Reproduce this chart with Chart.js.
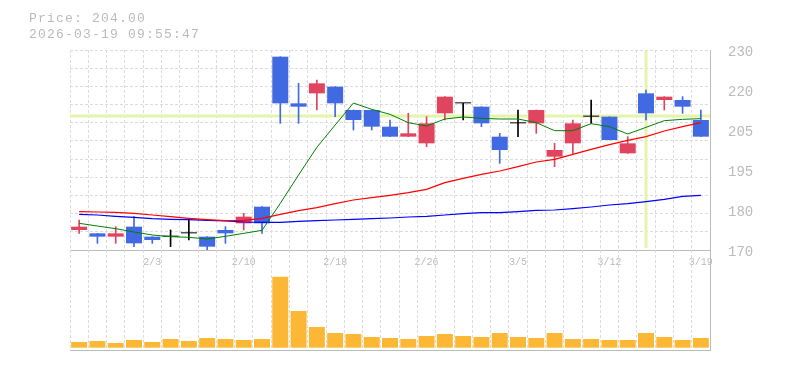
<!DOCTYPE html>
<html>
<head>
<meta charset="utf-8">
<title>Candlestick chart</title>
<script src="https://cdn.jsdelivr.net/npm/chart.js@4.4.1/dist/chart.umd.min.js"></script>
<style>
  body { margin: 0; background: #fff; }
  #wrap { position: relative; width: 785px; height: 370px; overflow: hidden; }
  #price { position: absolute; left: 0; top: 0; }
  #volume { position: absolute; left: 0; top: 250px; }
  #info {
    position: absolute; left: 29px; top: 11px;
    font: 13px/15.5px "Liberation Mono", monospace;
    letter-spacing: 1.2px; color: #bbb; white-space: pre;
  }
</style>
</head>
<body>
<div id="wrap">
  <canvas id="price" width="785" height="275"></canvas>
  <canvas id="volume" width="785" height="105"></canvas>
  <div id="info"></div>
</div>
<script>
// trading days shown
const dates = ['1/28', '1/29', '1/30', '2/2', '2/3', '2/4', '2/5', '2/6', '2/9', '2/10',
  '2/12', '2/13', '2/16', '2/17', '2/18', '2/19', '2/20', '2/24', '2/25', '2/26',
  '2/27', '3/2', '3/3', '3/4', '3/5', '3/6', '3/9', '3/10', '3/11', '3/12',
  '3/13', '3/16', '3/17', '3/18', '3/19'];
const labeledDates = ['2/3', '2/10', '2/18', '2/26', '3/5', '3/12', '3/19'];

const opens  = [176, 175, 174, 177, 174, 174, 175, 174, 176, 178, 183, 228, 214, 217, 219, 212, 212, 207,
  204, 202, 211, 214, 213, 204, 208, 208, 198, 202, 210, 210, 199, 217, 215, 215, 209];
const highs  = [179, 175, 177, 180, 174, 176, 179, 174, 177, 181, 183, 228, 220, 221, 219, 212, 212, 209,
  211, 210, 216, 214, 213, 205, 212, 212, 202, 209, 215, 210, 204, 218, 216, 216, 212];
const lows   = [175, 172, 172, 171, 172, 171, 173, 170, 172, 176, 175, 208, 208, 212, 210, 206, 206, 204,
  204, 201, 209, 209, 207, 196, 204, 205, 195, 199, 208, 203, 199, 209, 212, 211, 204];
const closes = [177, 174, 175, 172, 173, 174, 175, 171, 175, 180, 178, 214, 213, 220, 214, 209, 207, 204,
  205, 208, 216, 214, 208, 200, 208, 212, 200, 208, 210, 203, 202, 211, 216, 213, 204];

// moving averages (5 / 25 / 75 day)
const ma5  = [178.0, 177.2, 176.4, 175.4, 174.5, 174.0, 173.8, 173.3, 174.1, 175.0, 175.9, 184.0, 192.5,
  200.8, 207.5, 214.1, 212.2, 210.7, 208.2, 207.2, 209.3, 209.9, 209.5, 209.3, 209.3, 208.2, 205.8,
  205.8, 207.9, 207.0, 204.8, 206.8, 208.8, 209.2, 209.4];
const ma25 = [181.5, 181.4, 181.3, 181.0, 180.5, 180.0, 179.5, 179.1, 178.8, 178.9, 179.5, 180.7, 181.8,
  182.7, 183.9, 185.0, 185.7, 186.4, 187.2, 188.2, 190.2, 191.5, 192.7, 193.7, 195.0, 196.4, 197.2,
  198.7, 200.2, 201.6, 202.9, 204.0, 205.7, 207.0, 208.2];
const ma75 = [180.7, 180.5, 180.1, 179.8, 179.4, 179.2, 179.1, 178.9, 178.7, 178.4, 178.3, 178.3, 178.6,
  178.8, 179.0, 179.2, 179.4, 179.6, 179.9, 180.1, 180.5, 180.9, 181.2, 181.2, 181.5, 181.9, 182.0,
  182.4, 182.9, 183.5, 183.9, 184.5, 185.2, 186.1, 186.4];

// volume, thousand shares
const volumes = [57, 67, 47, 77, 57, 87, 67, 97, 87, 77, 87, 710, 367, 207, 147, 137, 107, 97, 87, 117,
  137, 117, 107, 147, 107, 97, 147, 87, 87, 77, 77, 147, 107, 77, 97];

const priceTickLabels = ['170', '180', '195', '205', '220', '230'];
const quoteTime = '2026-03-19 09:55:47';
const cursorIndex = 31;
const cursorPrice = 210.2;

const upColor = '#e0445e';
const downColor = '#4169e1';
const dojiColor = '#000000';
const gridColor = '#dcdcdc';
const axisColor = '#bbbbbb';
const textColor = '#bbbbbb';
const monoFont = '"Liberation Mono", monospace';

document.getElementById('info').textContent =
  'Price: ' + closes[closes.length - 1].toFixed(2) + '\n' + quoteTime;

function candleColor(i) {
  if (closes[i] > opens[i]) return upColor;
  if (closes[i] < opens[i]) return downColor;
  return dojiColor;
}
const colors = dates.map((d, i) => candleColor(i));

// hide grid lines that sit on a solid border
function xGridColor(ctx) {
  return ctx.type === 'tick' ? gridColor : 'rgba(0,0,0,0)';
}

const crosshair = {
  id: 'crosshair',
  beforeDatasetsDraw(chart) {
    const { ctx, chartArea, scales } = chart;
    const x = scales.x.getPixelForValue(cursorIndex);
    const y = scales.y.getPixelForValue(cursorPrice);
    ctx.save();
    ctx.strokeStyle = '#e4f5aa';
    ctx.lineWidth = 3;
    ctx.beginPath();
    ctx.moveTo(chartArea.left, y);
    ctx.lineTo(chartArea.right, y);
    ctx.moveTo(x, chartArea.top + 1);
    ctx.lineTo(x, chartArea.bottom - 2);
    ctx.stroke();
    ctx.restore();
  }
};

new Chart(document.getElementById('price'), {
  type: 'bar',
  data: {
    labels: dates,
    datasets: [
      { type: 'line', data: ma5, borderColor: '#008000', borderWidth: 1, pointRadius: 0, order: 0 },
      { type: 'line', data: ma25, borderColor: '#ff0000', borderWidth: 1.2, pointRadius: 0, order: 0 },
      { type: 'line', data: ma75, borderColor: '#0000ff', borderWidth: 1.2, pointRadius: 0, order: 0 },
      {
        data: dates.map((d, i) => [opens[i], closes[i]]),
        backgroundColor: colors, borderWidth: 0, minBarLength: 1,
        barPercentage: 0.875, categoryPercentage: 1, grouped: false, order: 1
      },
      {
        data: dates.map((d, i) => [lows[i], highs[i]]),
        backgroundColor: colors, borderWidth: 0, barThickness: 1,
        grouped: false, order: 2
      }
    ]
  },
  plugins: [crosshair],
  options: {
    responsive: false,
    animation: false,
    devicePixelRatio: 1,
    events: [],
    layout: { padding: { left: 70, top: 50, right: 0, bottom: 5 } },
    plugins: { legend: { display: false }, tooltip: { enabled: false } },
    scales: {
      x: {
        offset: true,
        grid: { offset: true, drawTicks: false, color: xGridColor },
        border: { color: axisColor, dash: [3, 2] },
        ticks: {
          autoSkip: false, maxRotation: 0, padding: 6, color: textColor,
          font: { family: monoFont, size: 10 },
          callback: (v, i) => labeledDates.includes(dates[i]) ? dates[i] : ''
        },
        afterFit: s => { s.height = 20; }
      },
      y: {
        position: 'right', min: 170, max: 230,
        grid: { display: false },
        border: { color: axisColor },
        ticks: {
          count: 6, padding: 10, labelOffset: 2.5, color: textColor,
          font: { family: monoFont, size: 14 },
          callback: (v, i) => priceTickLabels[i]
        },
        afterFit: s => { s.width = 75; }
      },
      yGrid: {
        position: 'left', min: 170, max: 230,
        ticks: { display: false, count: 12, maxTicksLimit: 20 },
        grid: { drawTicks: false, color: ctx => ctx.index === 0 ? 'rgba(0,0,0,0)' : gridColor },
        border: { display: false, dash: [3, 2] },
        afterFit: s => { s.width = 0; }
      }
    }
  }
});

new Chart(document.getElementById('volume'), {
  type: 'bar',
  data: {
    labels: dates,
    datasets: [{
      data: volumes, backgroundColor: '#fcb834', borderWidth: 0,
      barPercentage: 0.875, categoryPercentage: 1
    }]
  },
  options: {
    responsive: false,
    animation: false,
    devicePixelRatio: 1,
    events: [],
    layout: { padding: { left: 70, top: 0, right: 75, bottom: 5 } },
    plugins: { legend: { display: false }, tooltip: { enabled: false } },
    scales: {
      x: {
        offset: true,
        grid: { offset: true, drawTicks: false, color: xGridColor },
        border: { color: axisColor, dash: [3, 2] },
        ticks: { display: false },
        afterFit: s => { s.height = 0; }
      },
      y: {
        position: 'right', min: -23, max: 977,
        grid: { display: false },
        border: { color: axisColor },
        ticks: { display: false },
        afterFit: s => { s.width = 0; }
      }
    }
  }
});
</script>
</body>
</html>
